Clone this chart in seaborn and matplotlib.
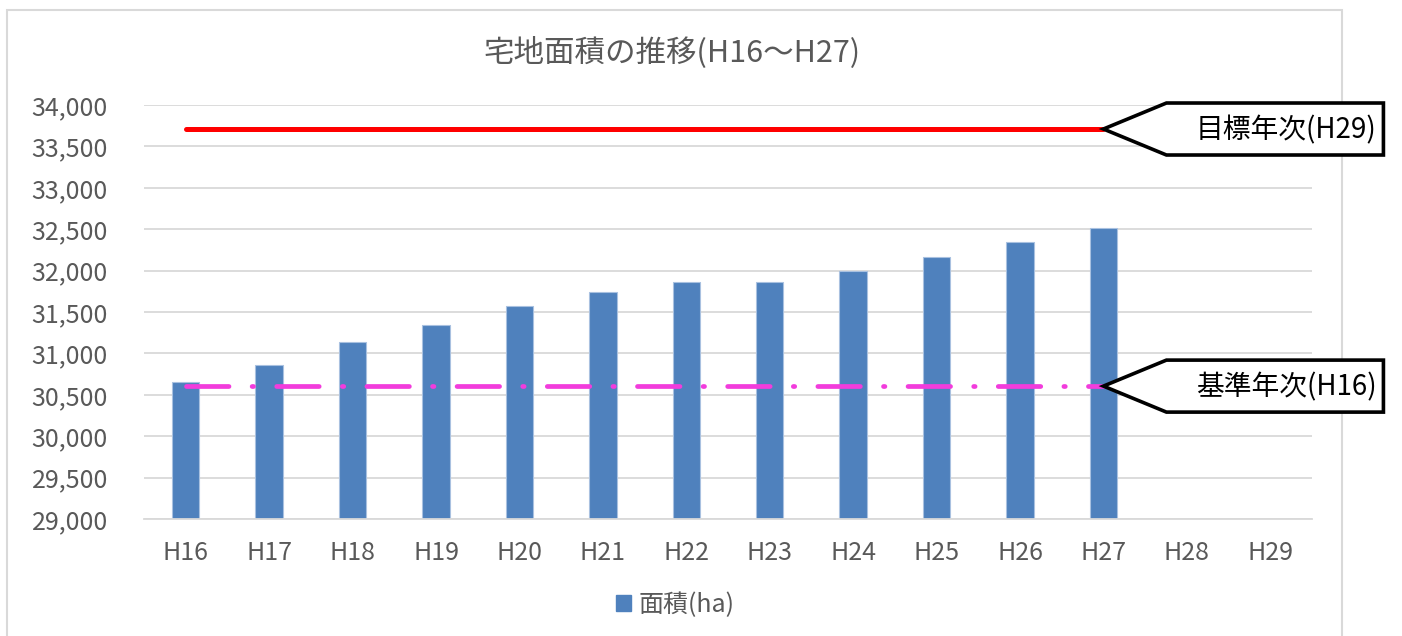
import numpy as np
import pandas as pd
import matplotlib
matplotlib.use('Agg')
import matplotlib.pyplot as plt
import matplotlib.transforms as mtransforms
from matplotlib.patches import Polygon, Rectangle, Patch
import seaborn as sns

# data
years = ['H16', 'H17', 'H18', 'H19', 'H20', 'H21', 'H22',
         'H23', 'H24', 'H25', 'H26', 'H27', 'H28', 'H29']
area_ha = [30655, 30860, 31140, 31340, 31570, 31740, 31860,
           31860, 31995, 32165, 32345, 32515, np.nan, np.nan]
line_years = years[:12]          # reference lines span H16..H27
target_area = 33710              # 目標年次(H29)
base_area = 30605                # 基準年次(H16)
yticks = list(range(29000, 34001, 500))

title = '宅地面積の推移(H16～H27)'
legend_label = '面積(ha)'
target_label = '目標年次(H29)'
base_label = '基準年次(H16)'

GREY = '#595959'
GRID = '#D9D9D9'
BAR = '#4F81BD'

sns.set_theme(style='white')
plt.rcParams['font.family'] = ['Noto Sans CJK JP', 'DejaVu Sans']

W, H = 1402, 636
fig = plt.figure(figsize=(W / 100, H / 100), dpi=100)
ax = fig.add_axes([144 / W, 1 - 519 / H, (1312 - 144) / W, (519 - 105) / H])

df = pd.DataFrame({'year': years, 'area': area_ha})
sns.barplot(data=df, x='year', y='area', order=years, color=BAR,
            saturation=1, width=0.33, errorbar=None, ax=ax,
            edgecolor='#A9C1E0', linewidth=0.8, zorder=2)

# horizontal reference lines over the category positions
x_pos = [years.index(y) for y in line_years]
ax.plot(x_pos, [target_area] * len(x_pos), color='#FF0000', lw=3.6,
        solid_capstyle='round', zorder=3)
ax.plot(x_pos, [base_area] * len(x_pos), color='#F23CDC', lw=3.4,
        linestyle=(0, (9.0, 4.9, 0.3, 4.9)), dash_capstyle='round', zorder=3)

ax.set_ylim(29000, 34000)
ax.set_xlim(-0.5, len(years) - 0.5)
ax.set_yticks(yticks)
ax.set_yticklabels([f'{v:,}' for v in yticks])
ax.set_xlabel('')
ax.set_ylabel('')
ax.yaxis.grid(True, color=GRID, lw=1.3)
ax.set_axisbelow(True)
for side in ['top', 'right', 'left']:
    ax.spines[side].set_visible(False)
ax.spines['bottom'].set_color(GRID)
ax.spines['bottom'].set_linewidth(1.3)
ax.tick_params(axis='y', length=0, pad=26, labelsize=18, labelcolor=GREY)
ax.tick_params(axis='x', length=0, pad=15, labelsize=18, labelcolor=GREY)


# callout boxes pointing at the end of each reference line
def callout(x, y, label):
    trans = fig.dpi_scale_trans + mtransforms.ScaledTranslation(x, y, ax.transData)
    L, R, h = 0.63, 2.80, 0.26
    poly = Polygon([(0, 0), (L, h), (R, h), (R, -h), (L, -h)], closed=True,
                   facecolor='white', edgecolor='black', lw=2.6,
                   transform=trans, clip_on=False, zorder=6)
    ax.add_patch(poly)
    ax.text(R - 0.07, -0.01, label, transform=trans, ha='right', va='center',
            fontsize=20, color='black', zorder=7, clip_on=False)


callout(x_pos[-1], target_area, target_label)
callout(x_pos[-1], base_area, base_label)

# chart frame
frame = Rectangle((7 / W, -0.05), (1342 - 7) / W, 1.05 - 10 / H, fill=False,
                  edgecolor=GRID, lw=1.5, transform=fig.transFigure, zorder=-1)
fig.add_artist(frame)

fig.text(672 / W, 1 - 52 / H, title, ha='center', va='center',
         fontsize=22, color=GREY)

fig.legend(handles=[Patch(color=BAR, label=legend_label)], loc='center',
           bbox_to_anchor=(675 / W, 1 - 605 / H), frameon=False, fontsize=18,
           handlelength=0.6, handleheight=0.6, handletextpad=0.3,
           labelcolor=GREY)

fig.savefig('out.png', dpi=100)
